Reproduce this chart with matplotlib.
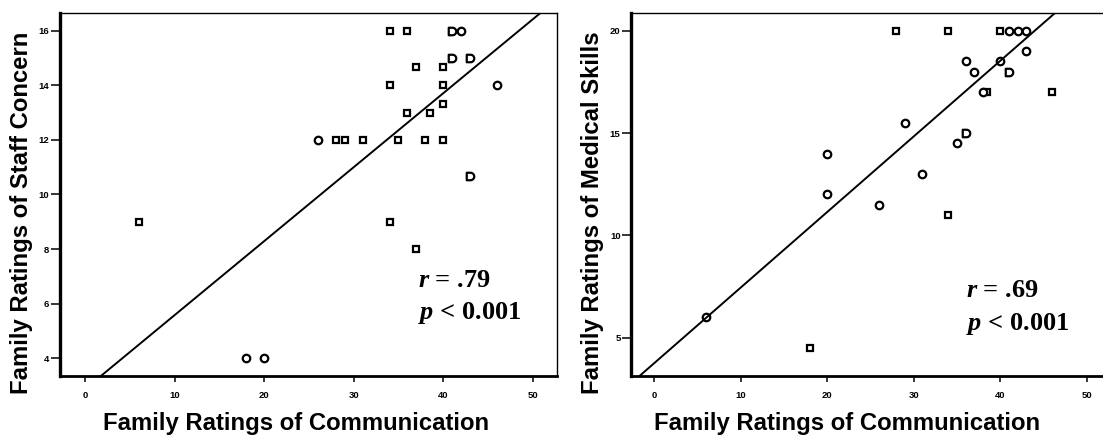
import numpy as np
import matplotlib
matplotlib.use('Agg')
import matplotlib.pyplot as plt
from matplotlib.path import Path

plt.rcParams['font.family'] = ['Liberation Sans', 'DejaVu Sans']
plt.rcParams['mathtext.fontset'] = 'custom'
plt.rcParams['mathtext.rm'] = 'Liberation Serif:bold'
plt.rcParams['mathtext.bf'] = 'Liberation Serif:bold'
plt.rcParams['mathtext.bfit'] = 'Liberation Serif:italic:bold'
plt.rcParams['mathtext.it'] = 'Liberation Serif:italic:bold'

# ---- data ----
# left panel: staff concern vs communication
staff_x = [34, 36, 37, 40, 34, 40, 40, 36, 38.5, 28, 29, 31, 35, 38, 40, 6, 34, 37,
           41, 41, 43, 43,
           42, 46, 26, 18, 20]
staff_y = [16, 16, 14.67, 14.67, 14, 14, 13.33, 13, 13, 12, 12, 12, 12, 12, 12, 9, 9, 8,
           16, 15, 15, 10.67,
           16, 14, 12, 4, 4]
staff_mark = ['s'] * 18 + ['d'] * 4 + ['o'] * 5
staff_fit = (2.87, 0.271)  # intercept, slope
staff_stats = ('.79', '0.001')

# right panel: medical skills vs communication
med_x = [28, 34, 40, 38.5, 46, 34, 18,
         41, 42, 43, 43, 36, 40, 37, 38, 29, 35, 20, 31, 20, 26, 6,
         41, 36]
med_y = [20, 20, 20, 17, 17, 11, 4.5,
         20, 20, 20, 19, 18.5, 18.5, 18, 17, 15.5, 14.5, 14, 13, 12, 11.5, 6,
         18, 15]
med_mark = ['s'] * 7 + ['o'] * 15 + ['d'] * 2
med_fit = (3.75, 0.3696)
med_stats = ('.69', '0.001')

x_label = 'Family Ratings of Communication'
y_labels = ['Family Ratings of Staff Concern', 'Family Ratings of Medical Skills']

# D shaped marker (square on the left, round on the right) like the SPSS overlaps
theta = np.linspace(-np.pi / 2, np.pi / 2, 20)
d_verts = [(-1, -1), (0, -1)] + [(np.cos(t), np.sin(t)) for t in theta] + [(-1, 1), (-1, -1)]
d_marker = Path(d_verts, closed=True)

W, H = 1103, 437
fig = plt.figure(figsize=(W / 100, H / 100), dpi=100)


def px_axes(left, right, top, bottom):
    return fig.add_axes([left / W, 1 - bottom / H, (right - left) / W, (bottom - top) / H])


ax1 = px_axes(59.5, 557, 12.7, 376)
ax2 = px_axes(631, 1110, 12.7, 376)


def draw_panel(ax, xs, ys, marks, fit, stats, xlim, ylim, yticks, ylabel, xlab_x, ylab_x, txt_x, txt_y):
    for x, y, m in zip(xs, ys, marks):
        mk = d_marker if m == 'd' else m
        size = 5.4 if m == 'd' else (5.0 if m == 's' else 5.4)
        ax.plot(x, y, linestyle='none', marker=mk, markersize=size, markerfacecolor='white',
                markeredgecolor='black', markeredgewidth=1.6)
    line_x = np.array(xlim)
    ax.plot(line_x, fit[0] + fit[1] * line_x, color='black', lw=1.4)

    ax.set_xlim(*xlim)
    ax.set_ylim(*ylim)
    ax.set_xticks([0, 10, 20, 30, 40, 50])
    ax.set_yticks(yticks)
    ax.tick_params(axis='x', direction='out', length=4.5, width=1.1, pad=6.5, labelsize=6.8)
    ax.tick_params(axis='y', direction='out', length=6.5, width=1.1, pad=1, labelsize=6.8)
    for lab in ax.get_xticklabels() + ax.get_yticklabels():
        lab.set_fontweight('bold')

    ax.spines['left'].set_linewidth(2.4)
    ax.spines['bottom'].set_linewidth(2.0)
    ax.spines['top'].set_linewidth(1.0)
    ax.spines['right'].set_linewidth(1.0)

    ax.set_xlabel(x_label, fontsize=17.2, fontweight='bold', va='baseline')
    ax.xaxis.set_label_coords(xlab_x, -0.1486)
    ax.set_ylabel(ylabel, fontsize=17.2, fontweight='bold', va='baseline')
    ax.yaxis.set_label_coords(ylab_x, 0.4487)

    ax.text(txt_x, txt_y[0], r'$\mathbfit{r}$ = ' + stats[0], transform=ax.transAxes,
            fontsize=19, family='Liberation Serif', fontweight='bold', va='baseline')
    ax.text(txt_x, txt_y[1], r'$\mathbfit{p}$ < ' + stats[1], transform=ax.transAxes,
            fontsize=19, family='Liberation Serif', fontweight='bold', va='baseline')


draw_panel(ax1, staff_x, staff_y, staff_mark, staff_fit, staff_stats,
           (-2.85, 52.7), (3.35, 16.66), [4, 6, 8, 10, 12, 14, 16], y_labels[0],
           0.475, -0.063, 0.72, (0.2458, 0.156))
draw_panel(ax2, med_x, med_y, med_mark, med_fit, med_stats,
           (-2.66, 52.66), (3.13, 20.88), [5, 10, 15, 20], y_labels[1],
           0.451, -0.0668, 0.699, (0.2174, 0.1266))

fig.savefig('out.png', dpi=100)
